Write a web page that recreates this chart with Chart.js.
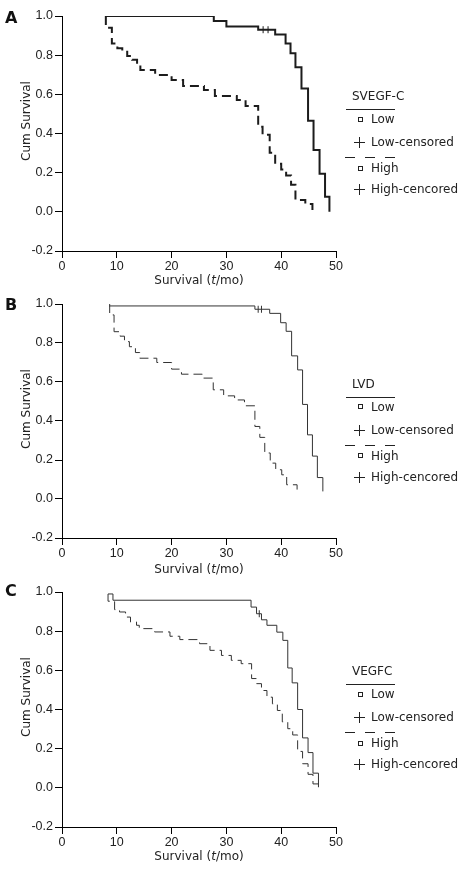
<!DOCTYPE html>
<html>
<head>
<meta charset="utf-8">
<script src="https://cdn.jsdelivr.net/npm/chart.js@4.4.1/dist/chart.umd.min.js"></script>
<style>
  html,body{margin:0;padding:0;background:#fff;}
  body{width:466px;height:872px;position:relative;overflow:hidden;font-family:'DejaVu Sans',sans-serif;color:#222;}
  canvas{position:absolute;left:0;}
  .t{position:absolute;font-size:12px;line-height:14px;white-space:nowrap;color:#222;}
  .lt{position:absolute;font-size:16px;font-weight:bold;line-height:18px;color:#111;}
  .yt{position:absolute;font-size:12px;line-height:14px;white-space:nowrap;transform:translate(-50%,-50%) rotate(-90deg);}
  .xt{position:absolute;font-size:12px;line-height:14px;white-space:nowrap;transform:translate(-50%,-50%);}
  .hl{position:absolute;height:0;border-top:1px solid #222;}
  .sq{position:absolute;width:3px;height:3px;border:1px solid #222;}
  .pv{position:absolute;width:0;height:11px;border-left:1px solid #222;}
  .ph{position:absolute;width:11px;height:0;border-top:1px solid #222;}
</style>
</head>
<body>
<canvas id="cA" width="466" height="290" style="top:0px"></canvas>
<canvas id="cB" width="466" height="290" style="top:290px"></canvas>
<canvas id="cC" width="466" height="292" style="top:580px"></canvas>
<script>
// ---- data ----
const xTicks = [0, 10, 20, 30, 40, 50];
const yTicks = [-0.2, 0, 0.2, 0.4, 0.6, 0.8, 1.0];
const panelLetters = ['A', 'B', 'C'];
const legendTitles = ['SVEGF-C', 'LVD', 'VEGFC'];
const legendLabels = ['Low', 'Low-censored', 'High', 'High-cencored'];
const yTitle = 'Cum Survival';

// Panel A
const A_lowT  = [8.0, 27.7, 30.0, 35.8, 38.9, 40.8, 41.7, 42.6, 43.7, 44.9, 45.9, 47.0, 48.0, 48.8];
const A_lowS  = [1.0, 0.975, 0.946, 0.93, 0.905, 0.86, 0.81, 0.738, 0.63, 0.465, 0.316, 0.195, 0.077, 0.0];
const A_highT = [8.0, 8.0, 9.1, 10.1, 11.0, 11.9, 12.8, 13.7, 14.3, 17.0, 20.0, 22.1, 25.9, 27.9, 31.9, 33.5, 35.8, 36.6, 37.9, 38.9, 40.0, 40.9, 41.8, 42.6, 44.4, 45.7];
const A_highS = [1.0, 0.94, 0.86, 0.835, 0.818, 0.796, 0.776, 0.75, 0.724, 0.699, 0.673, 0.643, 0.622, 0.592, 0.571, 0.54, 0.435, 0.393, 0.302, 0.245, 0.216, 0.186, 0.138, 0.061, 0.04, 0.01];
const A_censT = [36.7, 37.6];
const A_censS = [0.93, 0.93];

// Panel B
const B_lowT  = [8.6, 35.2, 37.9, 39.9, 40.9, 41.9, 43.0, 43.9, 44.8, 45.7, 46.6, 47.6];
const B_lowS  = [0.99, 0.973, 0.952, 0.904, 0.86, 0.734, 0.662, 0.485, 0.329, 0.22, 0.11, 0.039];
const B_highT = [8.7, 8.7, 9.5, 10.6, 11.4, 12.3, 13.4, 14.2, 17.3, 20.0, 21.8, 25.6, 27.6, 29.5, 31.5, 33.3, 35.2, 36.1, 37.0, 38.0, 39.0, 40.1, 41.0, 42.9];
const B_highS = [1.0, 0.944, 0.858, 0.835, 0.807, 0.781, 0.751, 0.722, 0.70, 0.666, 0.64, 0.62, 0.56, 0.529, 0.508, 0.478, 0.372, 0.316, 0.236, 0.184, 0.15, 0.124, 0.073, 0.039];
const B_censT = [35.8, 36.4];
const B_censS = [0.973, 0.973];

// Panel C
const C_lowT  = [8.4, 9.3, 34.5, 35.5, 36.4, 37.4, 39.2, 40.3, 41.2, 42.0, 43.0, 43.9, 44.9, 45.8, 46.8];
const C_lowS  = [0.99, 0.958, 0.923, 0.889, 0.858, 0.83, 0.795, 0.753, 0.612, 0.536, 0.40, 0.255, 0.18, 0.075, 0.003];
const C_highT = [8.4, 8.4, 9.6, 10.5, 11.6, 12.5, 13.6, 14.1, 16.9, 19.7, 21.5, 25.1, 27.0, 29.1, 30.9, 32.7, 34.6, 35.5, 36.4, 37.4, 38.4, 39.3, 40.2, 41.2, 42.1, 43.0, 43.9, 44.9, 45.8, 46.8];
const C_highS = [0.99, 0.953, 0.91, 0.898, 0.872, 0.847, 0.83, 0.813, 0.796, 0.774, 0.757, 0.736, 0.702, 0.676, 0.651, 0.634, 0.558, 0.532, 0.497, 0.463, 0.429, 0.395, 0.337, 0.302, 0.27, 0.186, 0.123, 0.069, 0.02, 0.02];
const C_censT = [36.0];
const C_censS = [0.889];

// ---- layout / style ----
const panels = [
  {id:'cA', top:0,   h:290, caTop:16, caBottom:251, lw:2, col:'#1c1c1c', low:[A_lowT,A_lowS], high:[A_highT,A_highS], cens:[A_censT,A_censS], legY:96,    letterY:18,  yTitleY:121, xTitleY:280},
  {id:'cB', top:290, h:290, caTop:14, caBottom:248, lw:1, col:'#333',    low:[B_lowT,B_lowS], high:[B_highT,B_highS], cens:[B_censT,B_censS], legY:383.5, letterY:304.5, yTitleY:409, xTitleY:569},
  {id:'cC', top:580, h:292, caTop:12, caBottom:247, lw:1, col:'#333',    low:[C_lowT,C_lowS], high:[C_highT,C_highS], cens:[C_censT,C_censS], legY:671,   letterY:590.5, yTitleY:697, xTitleY:856}
];

function pts(t, s){ return t.map((x, i) => ({x: x, y: s[i]})); }
const tickFont = {family: "'Liberation Sans',Arial,sans-serif", size: 12.5};

panels.forEach((p, idx) => {
  const ctx = document.getElementById(p.id).getContext('2d');
  new Chart(ctx, {
    type: 'line',
    data: {
      datasets: [
        {data: pts(p.low[0], p.low[1]), borderColor: p.col, borderWidth: p.lw, stepped: 'before', pointRadius: 0, fill: false},
        {data: pts(p.high[0], p.high[1]), borderColor: p.col, borderWidth: p.lw, borderDash: [9, 5], stepped: 'before', pointRadius: 0, fill: false},
        {data: pts(p.cens[0], p.cens[1]), showLine: false, pointStyle: 'line', pointRotation: 90, pointRadius: 3.5, pointBorderColor: p.col, pointBorderWidth: 1, borderColor: p.col}
      ]
    },
    options: {
      responsive: false,
      animation: false,
      events: [],
      layout: {padding: {left: 0, top: p.caTop, right: 130, bottom: 0}},
      plugins: {legend: {display: false}, tooltip: {enabled: false}},
      scales: {
        x: {
          type: 'linear', min: 0, max: 50,
          afterBuildTicks: s => { s.ticks = xTicks.map(v => ({value: v})); },
          afterFit: s => { s.height = p.h - p.caBottom; },
          grid: {drawOnChartArea: false, drawTicks: true, tickLength: 7, color: '#000'},
          border: {color: '#000', width: 1},
          ticks: {padding: 1, font: tickFont, color: '#222', maxRotation: 0, autoSkip: false, callback: v => String(v)}
        },
        y: {
          type: 'linear', min: -0.2, max: 1.0,
          afterBuildTicks: s => { s.ticks = yTicks.map(v => ({value: v})); },
          afterFit: s => { s.width = 62; },
          grid: {drawOnChartArea: false, drawTicks: true, tickLength: 7, color: '#000'},
          border: {color: '#000', width: 1},
          ticks: {padding: 2, font: tickFont, color: '#222', autoSkip: false, callback: v => Number(v).toFixed(1)}
        }
      }
    }
  });

  // texts and legend (real HTML text)
  const add = (cls, html, style) => {
    const d = document.createElement('div');
    d.className = cls;
    if (html !== null) d.innerHTML = html;
    Object.assign(d.style, style);
    document.body.appendChild(d);
  };
  add('lt', panelLetters[idx], {left: '5px', top: (p.letterY - 9) + 'px'});
  add('yt', yTitle, {left: '26px', top: p.yTitleY + 'px'});
  add('xt', 'Survival (<i>t</i>/mo)', {left: '199px', top: p.xTitleY + 'px'});

  const b = p.legY;
  add('t', legendTitles[idx], {left: '352px', top: (b - 7) + 'px'});
  add('hl', null, {left: '346px', top: (b + 13) + 'px', width: '49px'});
  // Low
  add('sq', null, {left: '358px', top: (b + 23 - 2.5) + 'px'});
  add('t', legendLabels[0], {left: '371px', top: (b + 23 - 7) + 'px'});
  // Low-censored
  add('ph', null, {left: '354px', top: (b + 46) + 'px'});
  add('pv', null, {left: '359px', top: (b + 46 - 5) + 'px'});
  add('t', legendLabels[1], {left: '371px', top: (b + 46 - 7) + 'px'});
  // dashed
  [345, 365, 385].forEach(x => add('hl', null, {left: x + 'px', top: (b + 61) + 'px', width: '10px'}));
  // High
  add('sq', null, {left: '358px', top: (b + 72 - 2.5) + 'px'});
  add('t', legendLabels[2], {left: '371px', top: (b + 72 - 7) + 'px'});
  // High-cencored
  add('ph', null, {left: '354px', top: (b + 93) + 'px'});
  add('pv', null, {left: '359px', top: (b + 93 - 5) + 'px'});
  add('t', legendLabels[3], {left: '371px', top: (b + 93 - 7) + 'px'});
});
</script>
</body>
</html>
